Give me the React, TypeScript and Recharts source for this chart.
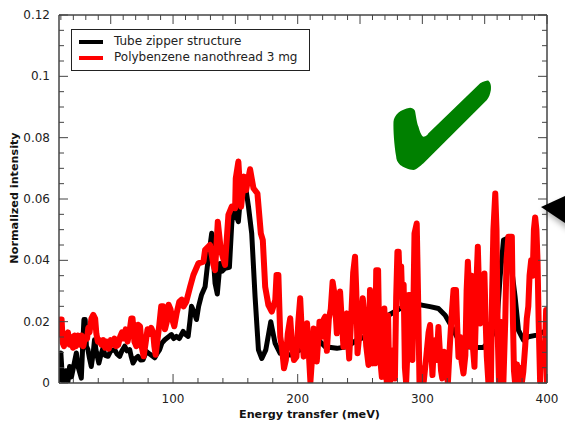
import React from "react";
import { LineChart, Line, XAxis, YAxis, Legend, ReferenceDot } from "recharts";

const FONT = "'DejaVu Sans', sans-serif";
const AXIS = "#444";

const tubeEnergy = [9,10,11,12,14,15.7,17,18.5,19.7,21,22.4,24,26.4,27.5,28.5,29.5,30.5,31.7,33,34.4,36,37,38.5,40.5,42,43.8,45.5,47.8,50,53.2,55,57.2,59,61.2,63,65.2,66.5,67.9,70,71.9,74,75.9,78.6,81,85.3,87,89.3,91,93.4,98.7,100.5,102.7,105,108.1,110,112.1,113.5,114.8,116.5,118.8,120.5,122.9,125.7,127.5,131,133.7,135.5,137.7,139.5,141.7,145.2,147.1,148.4,152.4,155.1,157,160.5,163.1,165.8,168.5,171.2,174.4,178.4,181.9,185.9,193.9,202,207.3,215.3,222,231.4,239.4,247.4,258.1,272.8,282.2,292.9,299.6,306.2,312.9,318.3,323.6,329,335.6,342.3,349,354.4,359.7,362.4,365.1,367.8,370.4,374.4,377.1,381.1,385.1,391.8,399.8];
const tubeIntensity = [0.001,0.0098,0.003,0.0005,0.004,0.0005,0.0054,0.002,0.0043,0.007,0.0098,0.005,0.0016,0.012,0.0207,0.0207,0.012,0.0109,0.008,0.0054,0.01,0.0141,0.01,0.0065,0.009,0.0114,0.009,0.0087,0.0105,0.0109,0.0095,0.0087,0.0105,0.012,0.0105,0.0109,0.0085,0.0065,0.008,0.0087,0.0075,0.0076,0.0103,0.0095,0.0082,0.0095,0.0109,0.013,0.0141,0.0158,0.0145,0.0152,0.0145,0.0168,0.0158,0.0152,0.02,0.025,0.0235,0.0207,0.025,0.0288,0.0314,0.038,0.0488,0.0325,0.029,0.039,0.0365,0.0374,0.0377,0.052,0.057,0.0526,0.0651,0.0673,0.0575,0.0488,0.0282,0.0108,0.008,0.0108,0.02,0.0129,0.0097,0.0091,0.0108,0.013,0.0146,0.0118,0.0113,0.0118,0.014,0.0157,0.0221,0.0243,0.0254,0.0254,0.0249,0.0243,0.0221,0.0183,0.014,0.0118,0.0116,0.0116,0.014,0.0189,0.0346,0.0466,0.0471,0.0412,0.0281,0.0172,0.014,0.0151,0.0156,0.0172];

const threadEnergyLow = [9,9.8,10.6,11.5,12.5,13.5,14.5,15.7,17,18,19.7,21,22,23.5,25,26.5,28,29.5,31,32,33,34.5,36,37.5,38.5,39.7,41,42.5,44,45.5,47,48.5,50,51.5,53,54.5,56,57.5,59,60.5,62,63.5,65,66.5,67.5,69,70.5,72,73.5,75,76.4,78,79.5,81,82.5,84,85,86,87.5,89,90.5,92,93.5,95,96.5,98,99.5,101,103,105,107,108.5,110.6];
const threadIntensityLow = [0.016,0.0207,0.0207,0.013,0.012,0.016,0.0135,0.0165,0.0125,0.015,0.0115,0.0155,0.012,0.0155,0.0125,0.0155,0.012,0.015,0.0145,0.018,0.0165,0.021,0.0222,0.021,0.016,0.0135,0.014,0.0125,0.014,0.0115,0.0135,0.0112,0.014,0.0125,0.0145,0.012,0.0125,0.015,0.0165,0.0145,0.0175,0.0135,0.0165,0.021,0.021,0.0135,0.012,0.019,0.0185,0.0115,0.0087,0.013,0.0175,0.016,0.018,0.0165,0.012,0.0092,0.014,0.019,0.025,0.025,0.0175,0.02,0.0255,0.024,0.0205,0.0185,0.023,0.0265,0.0272,0.025,0.0265];
const threadEnergyHigh = [113.7,116.3,120.3,124.4,125.7,129.7,132.4,133.7,135.9,138.3,141.7,144.4,147.1,149.8,150.3,152.4,154.6,157,158.6,161.8,164.5,167.7,170.4,172,173.9,176.5,179.2,182,183,184.5,186,187.5,189,190.5,192,194,195.5,197,199,200.5,202,203.5,204.8,206,207.5,209,210.2,211.5,212.8,214,215.3,216.5,217.5,219,220.5,222,223.4,225,226.5,228,229.5,231.4,232.8,234,235.4,236.7,238,239.4,240.4,241.3,243,244.5,246,247,248,250,252.2,253.5,255,256.8,258,259,260,261,262,263,264.5,265.5,266.5,267.5,268.5,269.5,270.5,271.5,272.5,273.5,275.5,276.8,278,279,280,281,282,283,284,285,286,287,288,289,290,291,292,293,293.7,295.5,296.5,297.7,298.5,299.6,301,303,305,306.2,307,308.1,309,310.5,311.5,312.9,313.8,315,316,317.5,319,320.5,321.5,322.3,323.5,325,327,328,329,330.3,331.5,333,334.5,335.5,336.5,337.5,338.5,339.5,340.5,341.8,342.8,343.8,344.5,345.5,346.3,347.5,348.5,349.8,350.8,351.7,353,355,356,357,358.5,359.5,360.5,361.5,362.5,363.5,365,366.5,367.5,369,371.8,372.7,373.5,374.4,376,377,378,379.8,381,382.5,383.8,385,386,387.3,388.5,389.5,390.5,391.5,392.4,393.3,394.5,395.8,397,398.5,399.3,400];
const threadIntensityHigh = [0.0314,0.0352,0.039,0.0396,0.0434,0.045,0.0385,0.0368,0.0526,0.0434,0.0385,0.0548,0.0575,0.057,0.0667,0.0722,0.0575,0.0673,0.0629,0.0697,0.0635,0.0618,0.0488,0.0466,0.0314,0.0254,0.0233,0.027,0.0352,0.0352,0.0151,0.011,0.0048,0.0075,0.016,0.0211,0.012,0.0075,0.0085,0.02,0.0276,0.015,0.0086,0.012,0.0195,0.009,0.0004,0.008,0.0178,0.012,0.007,0.014,0.02,0.015,0.0205,0.0216,0.0105,0.021,0.024,0.033,0.029,0.0162,0.024,0.0298,0.02,0.0118,0.018,0.0227,0.014,0.008,0.022,0.036,0.0412,0.03,0.0097,0.018,0.0276,0.022,0.012,0.0059,0.0303,0.012,0.0064,0.027,0.0064,0.0368,0.0368,0.012,0.0064,0.002,0.02,0.0243,0.008,0,0.022,0,0.002,0.0107,0.0015,0.028,0.0428,0.0428,0.03,0.038,0.025,0.032,0.005,0,0.01,0.0287,0.0287,0.012,0.0075,0.03,0.0488,0.052,0.03,0,0.005,0.0042,0,0.008,0.0165,0.0189,0.012,0.0026,0.01,0.014,0.0075,0.0183,0.012,0.004,0.0015,0.0102,0.006,0,0.008,0.014,0.022,0.0303,0.0303,0.018,0.0085,0.015,0.007,0.0031,0.009,0.03,0.0395,0.03,0.012,0.035,0.012,0.0053,0.02,0.037,0.0444,0.03,0.0194,0.034,0.02,0.0357,0.02,0.0085,0,0,0.03,0.0499,0.0618,0.05,0.015,0,0.02,0,0,0.02,0.04,0.0477,0.0477,0.02,0.004,0,0.006,0,0.005,0,0.0037,0.012,0.0211,0.025,0.035,0.04,0.035,0.05,0.054,0.05,0.04,0.02,0,0.0129,0.008,0.0129,0.0238,0];

const threadEnergy = [...threadEnergyLow, ...threadEnergyHigh];
const threadIntensity = [...threadIntensityLow, ...threadIntensityHigh];

const tubeRows = tubeEnergy.map((e, i) => ({ e, v: tubeIntensity[i] }));
const threadRows = threadEnergy.map((e, i) => ({ e, v: threadIntensity[i] }));

const bottomTicks = [20,40,60,80,100,120,140,160,180,200,220,240,260,280,300,320,340,360,380,400];
const topTicks = [10,20,30,40,50,60,70,80,90,100,110,120,130,140,150,160,170,180,190,200,210,220,230,240,250,260,270,280,290,300,310,320,330,340,350,360,370,380,390,400];
const yTicks = [0,0.005,0.01,0.015,0.02,0.025,0.03,0.035,0.04,0.045,0.05,0.055,0.06,0.065,0.07,0.075,0.08,0.085,0.09,0.095,0.1,0.105,0.11,0.115,0.12];
const yLabels: Record<string, string> = { "0": "0", "0.02": "0.02", "0.04": "0.04", "0.06": "0.06", "0.08": "0.08", "0.1": "0.1", "0.12": "0.12" };

const BottomTick = (p: any) => {
  const major = p.payload.value % 100 === 0;
  return (
    <g>
      <line x1={p.x} x2={p.x} y1={p.y} y2={p.y - (major ? 9 : 5)} stroke={AXIS} strokeWidth={1} />
      {major && <text x={p.x} y={p.y + 20} textAnchor="middle" fontSize={12} fontFamily={FONT} fill="#222">{p.payload.value}</text>}
    </g>
  );
};
const TopTick = (p: any) => {
  const major = p.payload.value % 50 === 0;
  return <line x1={p.x} x2={p.x} y1={p.y} y2={p.y + (major ? 9 : 5)} stroke={AXIS} strokeWidth={1} />;
};
const isMajorY = (v: number) => yLabels[String(v)] !== undefined;
const LeftTick = (p: any) => (
  <g>
    <line x1={p.x} x2={p.x + (isMajorY(p.payload.value) ? 9 : 5)} y1={p.y} y2={p.y} stroke={AXIS} strokeWidth={1} />
    {isMajorY(p.payload.value) && <text x={p.x - 9} y={p.y + 4} textAnchor="end" fontSize={12} fontFamily={FONT} fill="#222">{yLabels[String(p.payload.value)]}</text>}
  </g>
);
const RightTick = (p: any) => (
  <line x1={p.x} x2={p.x - (isMajorY(p.payload.value) ? 9 : 5)} y1={p.y} y2={p.y} stroke={AXIS} strokeWidth={1} />
);

const XTitle = () => (
  <text x={309.5} y={418} textAnchor="middle" fontSize={11.2} fontWeight={700} fontFamily={FONT} fill="#111">Energy transfer (meV)</text>
);
const YTitle = () => (
  <text transform="translate(18,198) rotate(-90)" textAnchor="middle" fontSize={11.2} fontWeight={700} fontFamily={FONT} fill="#111">Normalized intensity</text>
);

const Check = (p: any) => (
  <path
    transform={`translate(${p.cx},${p.cy})`}
    fill="#008000"
    d="M-46.7,-8.3 C-46,-15 -40,-20.7 -30,-22.3 C-27,-22 -25,-20 -25,-18.3 C-24,-12 -23,-6 -21.7,-3.3 C-20,3 -18,6.7 -16.7,6.7 C-14,6.7 -12,4 -11.7,3.3 L40,-46.7 C44,-49 48,-50 48.3,-49.3 C51,-47 51,-43 50.7,-40 C50,-36 49,-33 46.7,-30 L-16.7,33.3 C-20,36 -24,40 -26.7,40 C-31,40 -37,37 -40,35 C-43,32 -44,29 -44,26.7 C-46,15 -47,0 -46.7,-8.3 Z"
  />
);
const Arrow = (p: any) => (
  <g transform={`translate(${p.cx},${p.cy})`}>
    <defs>
      <filter id="arrowBlur" x="-50%" y="-50%" width="200%" height="200%"><feGaussianBlur stdDeviation="3" /></filter>
    </defs>
    <path d="M-4,3 L24,-9 L24,24 Z" fill="#000" opacity={0.35} filter="url(#arrowBlur)" />
    <path d="M-6,0 L18,-11 L18,16 Z" fill="#000" />
  </g>
);

const LegendBox = () => (
  <div style={{ width: 239, height: 42, boxSizing: "border-box", border: "1px solid #222", background: "#fff", fontFamily: FONT, fontSize: 12, color: "#222", position: "relative" }}>
    {[["Tube zipper structure", "#000"], ["Polybenzene nanothread 3 mg", "#ff0000"]].map(([label, color], i) => (
      <React.Fragment key={label}>
        <div style={{ position: "absolute", left: 7, top: 10 + i * 16, width: 24, height: 4, background: color }} />
        <div style={{ position: "absolute", left: 42, top: 3 + i * 16, lineHeight: "17px", whiteSpace: "nowrap" }}>{label}</div>
      </React.Fragment>
    ))}
  </div>
);

export default function App() {
  return (
    <div style={{ position: "absolute", left: 0, top: 0, width: 565, height: 422 }}>
      <LineChart width={565} height={422} margin={{ top: 0, right: 0, bottom: 0, left: 0 }}>
        <XAxis xAxisId="b" type="number" dataKey="e" domain={[8.5, 400]} allowDataOverflow ticks={bottomTicks} interval={0} height={39} tickSize={0} tickMargin={0} tick={BottomTick} tickLine={false} axisLine={{ stroke: AXIS, strokeWidth: 1.5 }} label={XTitle} />
        <XAxis xAxisId="t" orientation="top" type="number" dataKey="e" domain={[8.5, 400]} allowDataOverflow ticks={topTicks} interval={0} height={15} tickSize={0} tickMargin={0} tick={TopTick} tickLine={false} axisLine={{ stroke: AXIS, strokeWidth: 1.5 }} />
        <YAxis yAxisId="l" type="number" domain={[0, 0.12]} allowDataOverflow ticks={yTicks} interval={0} width={59} tickSize={0} tickMargin={0} tick={LeftTick} tickLine={false} axisLine={{ stroke: AXIS, strokeWidth: 1.5 }} label={YTitle} />
        <YAxis yAxisId="r" orientation="right" type="number" domain={[0, 0.12]} allowDataOverflow ticks={yTicks} interval={0} width={18} tickSize={0} tickMargin={0} tick={RightTick} tickLine={false} axisLine={{ stroke: AXIS, strokeWidth: 1.5 }} />
        <Line xAxisId="b" yAxisId="l" data={tubeRows} dataKey="v" name="Tube zipper structure" stroke="#000" strokeWidth={5} dot={false} isAnimationActive={false} strokeLinejoin="round" strokeLinecap="round" />
        <Line xAxisId="b" yAxisId="l" data={threadRows} dataKey="v" name="Polybenzene nanothread 3 mg" stroke="#ff0000" strokeWidth={6} dot={false} isAnimationActive={false} strokeLinejoin="round" strokeLinecap="round" />
        <ReferenceDot xAxisId="b" yAxisId="l" x={314.3} y={0.0825} ifOverflow="visible" shape={Check} />
        <ReferenceDot xAxisId="b" yAxisId="l" x={400} y={0.0574} ifOverflow="visible" shape={Arrow} />
        <Legend layout="horizontal" verticalAlign="middle" align="center" content={LegendBox} wrapperStyle={{ position: "absolute", left: 71, top: 29, width: 239, height: 42 }} />
      </LineChart>
    </div>
  );
}
